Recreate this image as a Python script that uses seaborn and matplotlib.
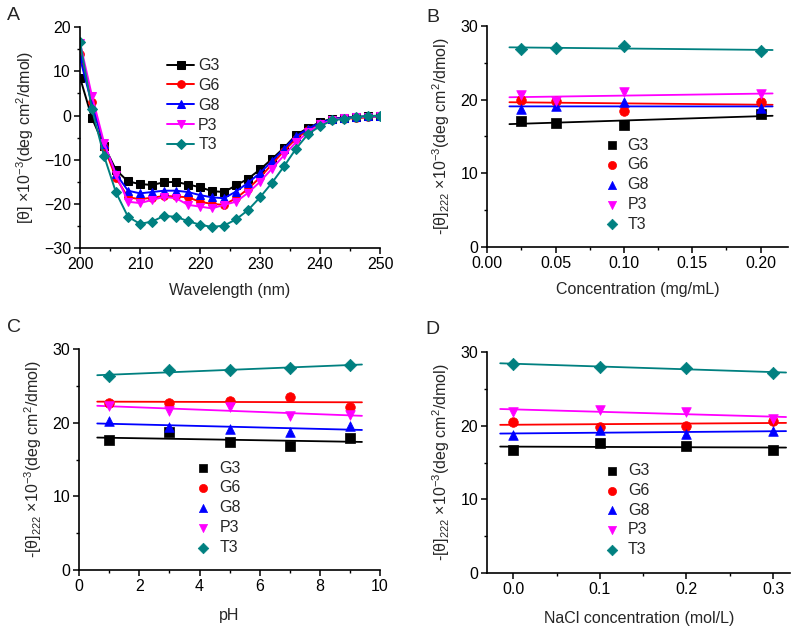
import numpy as np
import pandas as pd
import matplotlib
matplotlib.use("Agg")
import matplotlib.pyplot as plt
from matplotlib.ticker import MultipleLocator, FormatStrFormatter
import seaborn as sns

# ---------------- data ----------------
series = ["G3", "G6", "G8", "P3", "T3"]
colors = ["#000000", "#FF0000", "#0000FF", "#FF00FF", "#008080"]
markers = ["s", "o", "^", "v", "D"]

wavelength = list(range(200, 251, 2))
cd_G3 = [8.6, -0.6, -6.8, -12.3, -14.9, -15.5, -15.7, -15.1, -15.0, -15.6, -16.2, -17.1, -17.3,
         -15.8, -14.3, -12.2, -9.8, -7.3, -4.4, -2.8, -1.5, -0.7, -0.5, -0.3, -0.2, -0.1]
cd_G6 = [14.0, 3.0, -7.0, -14.1, -18.5, -18.9, -18.6, -18.2, -18.3, -18.5, -19.5, -20.0, -20.2,
         -18.7, -16.6, -14.0, -11.0, -8.0, -5.2, -3.2, -1.8, -0.9, -0.7, -0.6, -0.4, -0.2]
cd_G8 = [13.0, 2.5, -6.5, -13.2, -17.0, -17.6, -17.3, -17.0, -17.0, -17.3, -18.0, -18.5, -18.7,
         -17.2, -15.2, -13.0, -10.3, -7.5, -4.7, -3.0, -1.6, -0.8, -0.5, -0.3, -0.2, -0.1]
cd_P3 = [16.5, 4.4, -6.1, -13.4, -19.5, -19.8, -19.1, -18.4, -18.7, -20.2, -20.6, -21.0, -20.2,
         -19.5, -17.5, -15.0, -12.0, -9.0, -6.0, -3.8, -2.0, -1.0, -0.6, -0.4, -0.3, -0.2]
cd_T3 = [16.7, 1.4, -9.1, -17.4, -22.9, -24.5, -24.0, -22.7, -22.9, -23.9, -24.7, -25.2, -24.9,
         -23.5, -21.4, -18.5, -15.2, -11.5, -7.5, -4.2, -2.4, -1.1, -0.7, -0.3, -0.1, 0.0]

conc = [0.025, 0.05, 0.1, 0.2]
conc_G3 = [17.1, 16.8, 16.6, 18.0]
conc_G6 = [20.0, 19.8, 18.5, 19.7]
conc_G8 = [18.7, 19.1, 19.7, 18.8]
conc_P3 = [20.6, 19.8, 21.0, 20.7]
conc_T3 = [26.9, 27.0, 27.3, 26.6]

ph = [1, 3, 5, 7, 9]
ph_G3 = [17.6, 18.75, 17.4, 16.8, 17.9]
ph_G6 = [22.7, 22.7, 23.0, 23.5, 22.2]
ph_G8 = [20.3, 19.4, 19.2, 18.8, 19.6]
ph_P3 = [22.3, 21.6, 22.2, 20.9, 21.1]
ph_T3 = [26.4, 27.1, 27.1, 27.4, 27.9]

nacl = [0.0, 0.1, 0.2, 0.3]
nacl_G3 = [16.7, 17.7, 17.3, 16.7]
nacl_G6 = [20.5, 19.8, 20.0, 20.7]
nacl_G8 = [18.8, 19.4, 18.9, 19.3]
nacl_P3 = [21.9, 22.2, 21.9, 20.9]
nacl_T3 = [28.4, 28.0, 27.8, 27.2]

# ---------------- style ----------------
sns.set_theme(style="ticks")
plt.rcParams["font.family"] = ["Liberation Sans", "DejaVu Sans"]
plt.rcParams["mathtext.fontset"] = "custom"
plt.rcParams["mathtext.rm"] = "Liberation Sans"
plt.rcParams["mathtext.it"] = "Liberation Sans:italic"
plt.rcParams["mathtext.default"] = "rm"
FS = 11.5

fig = plt.figure(figsize=(8, 6.33), dpi=100)
axA = fig.add_axes([0.100, 0.608, 0.375, 0.349])
axB = fig.add_axes([0.609, 0.610, 0.376, 0.349])
axC = fig.add_axes([0.099, 0.0995, 0.376, 0.349])
axD = fig.add_axes([0.609, 0.0948, 0.379, 0.349])


def style_axis(ax):
    for s in ["top", "right"]:
        ax.spines[s].set_visible(False)
    for s in ["left", "bottom"]:
        ax.spines[s].set_linewidth(1.2)
        ax.spines[s].set_color("black")
    ax.tick_params(which="major", direction="out", length=4.5, width=1.1,
                   labelsize=FS, colors="black", pad=2)
    ax.tick_params(which="minor", direction="out", length=2.5, width=1.0, colors="black")
    ax.set_facecolor("white")


# ---------------- panel A ----------------
dfA = pd.DataFrame({"wl": wavelength * 5,
                    "val": cd_G3 + cd_G6 + cd_G8 + cd_P3 + cd_T3,
                    "series": sum([[s] * len(wavelength) for s in series], [])})
for s, c, m in zip(series, colors, markers):
    d = dfA[dfA["series"] == s]
    sns.lineplot(data=d, x="wl", y="val", color=c, marker=m, markersize=5.5 if m != "D" else 5,
                 markeredgecolor=c, linewidth=1.4, label=s, ax=axA)
axA.set_xlim(200, 250)
axA.set_ylim(-30, 20)
axA.xaxis.set_major_locator(MultipleLocator(10))
axA.xaxis.set_minor_locator(MultipleLocator(5))
axA.yaxis.set_major_locator(MultipleLocator(10))
axA.yaxis.set_minor_locator(MultipleLocator(5))
style_axis(axA)
axA.set_xlabel("Wavelength (nm)", fontsize=FS, labelpad=8)
axA.set_ylabel("[θ] ×10$^{-3}$(deg cm$^{2}$/dmol)", fontsize=FS, labelpad=6)
axA.legend(loc="upper left", bbox_to_anchor=(0.29, 0.86), frameon=False, fontsize=FS,
           handlelength=1.7, handletextpad=0.25, labelspacing=0.3, borderpad=0,
           borderaxespad=0)


# ---------------- panels B-D ----------------
def scatter_panel(ax, x, ys, xlim, xmaj, xmin, fmt, xlabel, leg_anchor, labelpad):
    x = np.asarray(x, dtype=float)
    span = x.max() - x.min()
    xs = np.array([x.min() - 0.05 * span, x.max() + 0.05 * span])
    df = pd.DataFrame({"x": np.tile(x, len(series)),
                       "y": sum([list(v) for v in ys], []),
                       "series": sum([[s] * len(x) for s in series], [])})
    for s, c, m in zip(series, colors, markers):
        d = df[df["series"] == s]
        k, b = np.polyfit(d["x"], d["y"], 1)
        sns.lineplot(x=xs, y=k * xs + b, color=c, linewidth=1.3, ax=ax)
    for s, c, m in zip(series, colors, markers):
        d = df[df["series"] == s]
        sns.scatterplot(data=d, x="x", y="y", color=c, marker=m, s=48 if m != "D" else 40,
                        edgecolor=c, linewidth=0.5, label=s, ax=ax, zorder=3)
    ax.set_xlim(*xlim)
    ax.set_ylim(0, 30)
    ax.xaxis.set_major_locator(MultipleLocator(xmaj))
    ax.xaxis.set_minor_locator(MultipleLocator(xmin))
    ax.xaxis.set_major_formatter(FormatStrFormatter(fmt))
    ax.yaxis.set_major_locator(MultipleLocator(10))
    ax.yaxis.set_minor_locator(MultipleLocator(5))
    style_axis(ax)
    ax.set_xlabel(xlabel, fontsize=FS, labelpad=labelpad)
    ax.set_ylabel("-[θ]$_{\\mathit{222}}$ ×10$^{-3}$(deg cm$^{2}$/dmol)", fontsize=FS, labelpad=6)
    ax.legend(loc="upper left", bbox_to_anchor=leg_anchor, frameon=False, fontsize=FS,
              handlelength=1.0, handletextpad=0.5, labelspacing=0.3, borderpad=0,
              borderaxespad=0, scatterpoints=1, markerscale=0.85)


scatter_panel(axB, conc, [conc_G3, conc_G6, conc_G8, conc_P3, conc_T3],
              (0, 0.22), 0.05, 0.025, "%.2f", "Concentration (mg/mL)", (0.387, 0.495), 8)
scatter_panel(axC, ph, [ph_G3, ph_G6, ph_G8, ph_P3, ph_T3],
              (0, 10), 2, 1, "%d", "pH", (0.386, 0.495), 10)
scatter_panel(axD, nacl, [nacl_G3, nacl_G6, nacl_G8, nacl_P3, nacl_T3],
              (-0.03, 0.32), 0.1, 0.05, "%.1f", "NaCl concentration (mol/L)", (0.385, 0.498), 10)

# panel letters
for lab, x, y in [("A", 7, 7), ("B", 426, 9), ("C", 7, 319), ("D", 425, 321)]:
    fig.text(x / 800, 1 - y / 633, lab, fontsize=14, ha="left", va="top")

fig.savefig("out.png", dpi=100, facecolor="white")
